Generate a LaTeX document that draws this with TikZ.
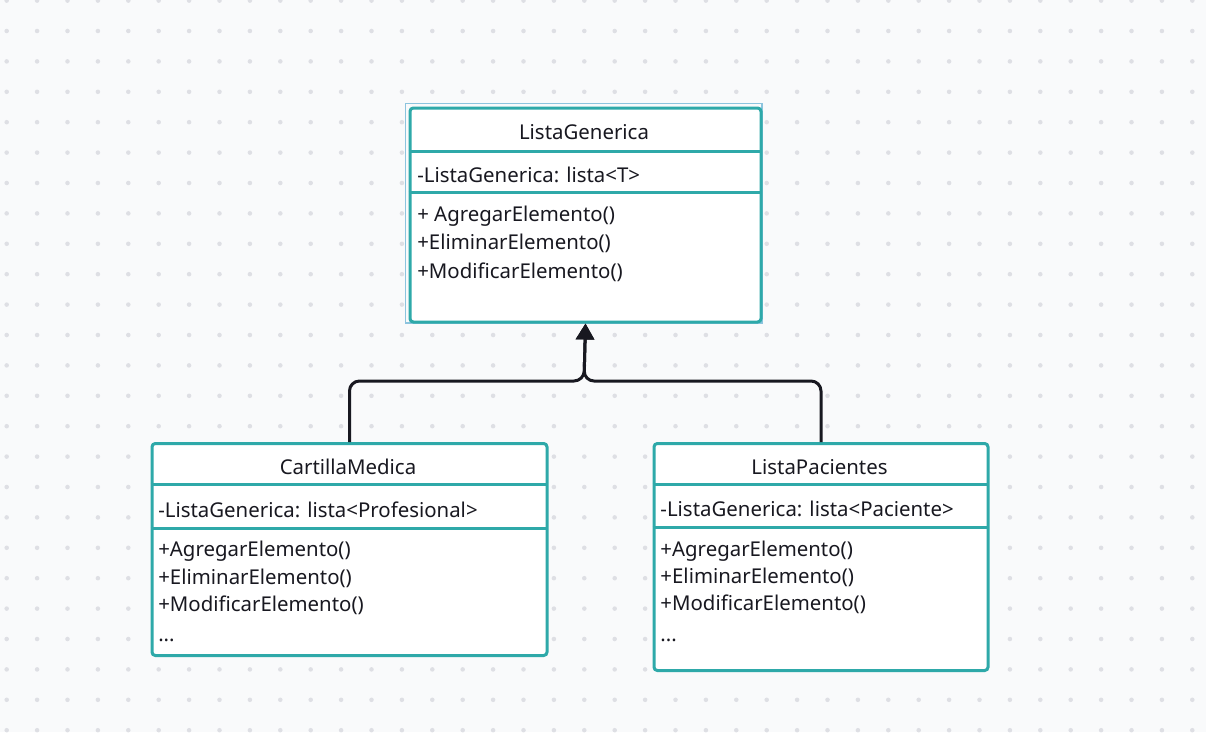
\documentclass[tikz,border=0pt]{standalone}
\usepackage{fontspec}
\setmainfont{Noto Sans}
\usetikzlibrary{arrows.meta}
\definecolor{bg}{RGB}{249,250,251}
\definecolor{dotc}{RGB}{222,223,228}
\definecolor{tealc}{RGB}{46,169,169}
\definecolor{selc}{RGB}{140,196,222}
\definecolor{ink}{RGB}{24,24,32}
\begin{document}
\begin{tikzpicture}[x=0.75pt,y=-0.75pt,
  classbox/.style={draw=tealc,line width=2.25pt,fill=white,rounded corners=2.5pt,inner sep=0pt,anchor=north west},
  divider/.style={draw=tealc,line width=2.25pt},
  ctitle/.style={anchor=base,inner sep=0pt,text=ink,font=\fontsize{15.3}{18}\selectfont},
  ctext/.style={anchor=base west,inner sep=0pt,text=ink,font=\fontsize{15.3}{18}\selectfont},
  conn/.style={draw=ink,line width=2.25pt,rounded corners=7.5pt,-{Triangle[width=13.5pt,length=12pt]}}
]
\useasboundingbox (0,0) rectangle (1206,732);
\fill[bg] (0,0) rectangle (1206,732);
\foreach \i in {0,...,39}{
  \foreach \j in {0,...,24}{
    \fill[dotc] (6.7+30.4*\i,0.6+30.4*\j) circle (1.7pt);
  }
}
% selection outline
\draw[selc,line width=0.9pt] (405.5,103.5) rectangle (762,323);
% ListaGenerica
\node[classbox,minimum width=263.25pt,minimum height=160.5pt] (gen) at (408.5,106.5) {};
\draw[divider] (408.5,151) -- (759.5,151);
\draw[divider] (408.5,192) -- (759.5,192);
\node[ctitle] (genT) at (584,139) {ListaGenerica};
\node[ctext] (genA) at (417,182.3) {-ListaGenerica: lista<T>};
\node[ctext] (genM1) at (417,221.7) {+ AgregarElemento()};
\node[ctext] (genM2) at (417,249) {+EliminarElemento()};
\node[ctext] (genM3) at (417,278.3) {+ModificarElemento()};
% CartillaMedica
\node[classbox,minimum width=296.25pt,minimum height=159pt] (cm) at (150.5,442) {};
\draw[divider] (150.5,484) -- (545.5,484);
\draw[divider] (150.5,528) -- (545.5,528);
\node[ctitle] (cmT) at (348,474) {CartillaMedica};
\node[ctext] (cmA) at (158,517.3) {-ListaGenerica: lista<Profesional>};
\node[ctext] (cmM1) at (158,556.7) {+AgregarElemento()};
\node[ctext] (cmM2) at (158,584) {+EliminarElemento()};
\node[ctext] (cmM3) at (158,611.7) {+ModificarElemento()};
\node[ctext] (cmM4) at (158,641.7) {...};
% ListaPacientes
\node[classbox,minimum width=250.5pt,minimum height=170.25pt] (lp) at (652.5,442) {};
\draw[divider] (652.5,484) -- (986.5,484);
\draw[divider] (652.5,527) -- (986.5,527);
\node[ctitle] (lpT) at (819.5,474.3) {ListaPacientes};
\node[ctext] (lpA) at (660.2,516) {-ListaGenerica: lista<Paciente>};
\node[ctext] (lpM1) at (660.2,556) {+AgregarElemento()};
\node[ctext] (lpM2) at (660.2,583.7) {+EliminarElemento()};
\node[ctext] (lpM3) at (660.2,610.5) {+ModificarElemento()};
\node[ctext] (lpM4) at (660.2,641.7) {...};
% inheritance connectors
\coordinate (jn) at (584,381);
\draw[conn] (cm.north) |- (jn) -- (gen.south);
\draw[conn] (lp.north) |- (jn) -- (gen.south);
\end{tikzpicture}
\end{document}
